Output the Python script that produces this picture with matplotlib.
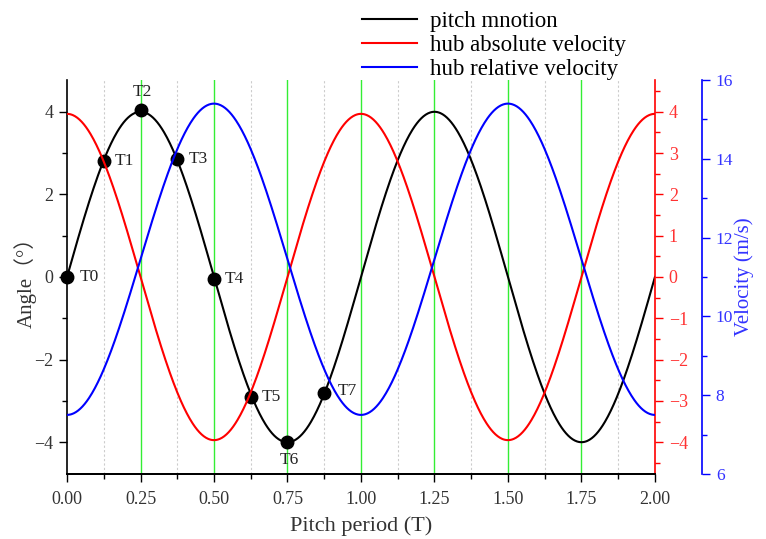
import numpy as np
import matplotlib
matplotlib.use('Agg')
import matplotlib.pyplot as plt
from matplotlib.ticker import MultipleLocator

plt.rcParams['font.family'] = ['Liberation Serif', 'Noto Sans CJK SC', 'DejaVu Sans']
plt.rcParams['axes.unicode_minus'] = True

# harmonic motion parameters (two pitch periods)
periods = 2.0
pitch_amp = 4.0          # deg
abs_vel_amp = 3.95       # hub absolute velocity amplitude
rel_vel_mean = 11.45     # m/s
rel_vel_amp = 3.95       # m/s

# marked instants over the first period
key_t = [0.0, 0.125, 0.25, 0.375, 0.5, 0.625, 0.75, 0.875]
key_angle = [0.0, 2.8, 4.05, 2.85, -0.05, -2.9, -4.0, -2.8]
key_names = ['T0', 'T1', 'T2', 'T3', 'T4', 'T5', 'T6', 'T7']
# label offsets in points
key_offsets = [(9, 0), (8, 0), (1, 13), (8, 0), (8, 0), (8, 0), (1, -13), (10, 1)]

green_lines = [0.25, 0.5, 0.75, 1.0, 1.25, 1.5, 1.75]
grey_lines = [0.125, 0.375, 0.625, 0.875, 1.125, 1.375, 1.625, 1.875]

t = np.linspace(0, periods, 801)
pitch = pitch_amp * np.sin(2 * np.pi * t)
abs_vel = abs_vel_amp * np.cos(2 * np.pi * t)
rel_vel = rel_vel_mean - rel_vel_amp * np.cos(2 * np.pi * t)

fig = plt.figure(figsize=(7.66, 5.39), dpi=100)
ax = fig.add_axes([0.0875, 0.1206, 0.7675, 0.731])
ax2 = ax.twinx()
ax3 = ax.twinx()

for x in grey_lines:
    ax.axvline(x, color='#cccccc', lw=0.8, ls=(0, (2, 2)), zorder=0)
for x in green_lines:
    ax.axvline(x, color='#33ee33', lw=1.0, zorder=0)

l1, = ax.plot(t, pitch, color='black', lw=1.5, zorder=3, label='pitch mnotion')
l2, = ax2.plot(t, abs_vel, color='red', lw=1.5, label='hub absolute velocity')
l3, = ax3.plot(t, rel_vel, color='blue', lw=1.5, label='hub relative velocity')

ax.plot(key_t, key_angle, 'o', color='black', ms=9, zorder=5, clip_on=False)
for x, y, name, off in zip(key_t, key_angle, key_names, key_offsets):
    ax.annotate(name, (x, y), xytext=off, textcoords='offset points',
                fontsize=12.5, color='#222222', va='center',
                ha='left' if off[0] > 4 else 'center')

ax.set_xlim(0, 2)
ax.set_ylim(-4.77, 4.77)
ax2.set_ylim(-4.77, 4.77)
ax3.set_ylim(6, 16)

ax.set_xticks([0, 0.25, 0.5, 0.75, 1.0, 1.25, 1.5, 1.75, 2.0])
ax.set_xticklabels(['%.2f' % v for v in ax.get_xticks()])
ax.xaxis.set_minor_locator(MultipleLocator(0.125))
ax.yaxis.set_major_locator(MultipleLocator(2))
ax.yaxis.set_minor_locator(MultipleLocator(1))
ax2.yaxis.set_major_locator(MultipleLocator(1))
ax2.yaxis.set_minor_locator(MultipleLocator(0.5))
ax3.yaxis.set_major_locator(MultipleLocator(2))
ax3.yaxis.set_minor_locator(MultipleLocator(1))

for a in (ax, ax2, ax3):
    a.spines['top'].set_visible(False)
    a.tick_params(which='major', direction='out', length=6, width=1,
                  labelsize=13, pad=4)
    a.tick_params(which='minor', direction='out', length=3.5, width=1)
ax.spines['right'].set_visible(False)
ax2.spines['left'].set_visible(False)
ax3.spines['left'].set_visible(False)
for a in (ax, ax2, ax3):
    for s in a.spines.values():
        s.set_linewidth(1.2)

ax.tick_params(axis='y', colors='black', labelcolor='#333333')
ax.tick_params(axis='x', labelcolor='#333333', pad=6)
ax2.spines['right'].set_color('red')
ax2.tick_params(axis='y', which='both', colors='red', labelcolor='#ff3333')
ax3.spines['right'].set_position(('axes', 1.08))
ax3.spines['right'].set_color('blue')
ax3.tick_params(axis='y', which='both', colors='blue', labelcolor='#3333ff',
                labelsize=12.5)

ax.set_xlabel('Pitch period (T)', fontsize=16, color='#333333', labelpad=6)
ax.set_ylabel('Angle（°）', fontsize=15, color='#333333', labelpad=-2)
ax3.set_ylabel('Velocity (m/s)', fontsize=15, color='#3333ff', labelpad=1)

fig.legend(handles=[l1, l2, l3], loc='upper left', bbox_to_anchor=(0.452, 1.01),
           frameon=False, fontsize=16.5, handlelength=2.4, handletextpad=0.55,
           labelspacing=0.14, borderaxespad=0.3)

fig.savefig('out.png', dpi=100)
